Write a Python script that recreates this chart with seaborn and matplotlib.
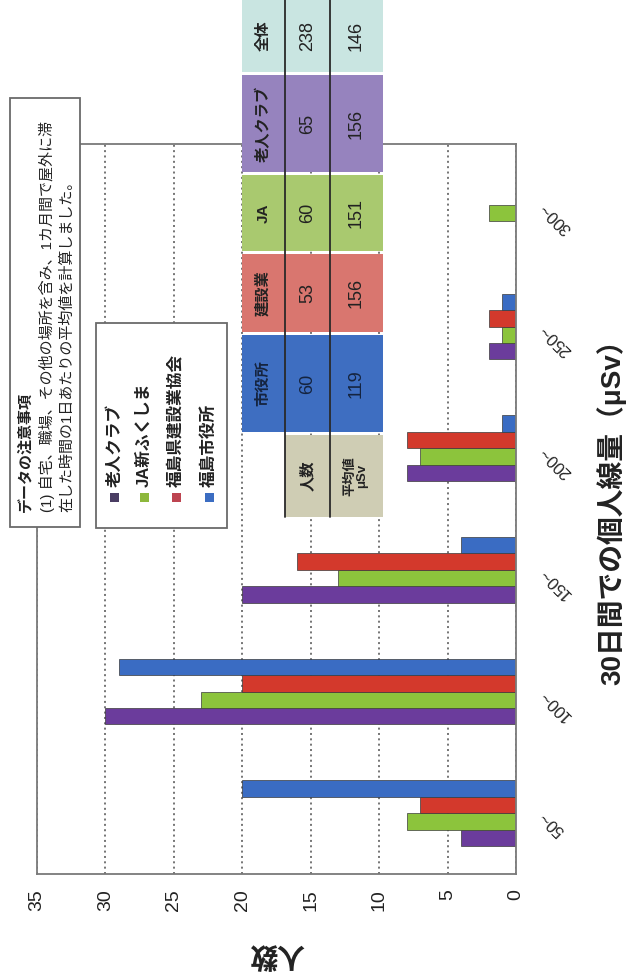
import numpy as np
import pandas as pd
import matplotlib
matplotlib.use("Agg")
import matplotlib.pyplot as plt
from matplotlib.patches import Rectangle
import seaborn as sns

# 30日間の個人線量区分
dose_bins = ["50~", "100~", "150~", "200~", "250~", "300~"]
# 団体
groups = ["老人クラブ", "JA新ふくしま", "福島県建設業協会", "福島市役所"]
# 区分ごとの人数
rojin = [4, 30, 20, 8, 2, 0]
ja = [8, 23, 13, 7, 1, 2]
kensetsu = [7, 20, 16, 8, 2, 0]
shiyakusho = [20, 29, 4, 1, 1, 0]
value_ticks = [0, 5, 10, 15, 20, 25, 30, 35]

# 集計表
table_cols = ["市役所", "建設業", "JA", "老人クラブ", "全体"]
table_counts = [60, 53, 60, 65, 238]
table_means = [119, 156, 151, 156, 146]

note_lines = [
    "データの注意事項",
    "(1) 自宅、職場、その他の場所を含み、1カ月間で屋外に滞",
    "在した時間の1日あたりの平均値を計算しました。",
]

bar_colors = ["#6b3c9c", "#8cc43c", "#d3392c", "#3a6cc3"]
legend_colors = ["#4a3d63", "#8db83c", "#bd4450", "#3b6dc2"]
table_colors = ["#3e6ec1", "#d9766f", "#a9c96f", "#9683be", "#c9e5e1"]
header_color = "#cfcdb4"

sns.set_style("white")
plt.rcParams["font.family"] = ["Liberation Sans", "Noto Sans CJK JP", "DejaVu Sans"]

W, H = 632, 976
fig = plt.figure(figsize=(W / 100, H / 100), dpi=100)
fig.patch.set_facecolor("white")

# main chart area (pixel layout converted to figure fractions)
ax_l, ax_t, ax_r, ax_b = 37, 144, 516, 874
ax = fig.add_axes([ax_l / W, (H - ax_b) / H, (ax_r - ax_l) / W, (ax_b - ax_t) / H])

df = pd.DataFrame({
    "区分": np.tile(dose_bins, len(groups)),
    "団体": np.repeat(groups, len(dose_bins)),
    "人数": rojin + ja + kensetsu + shiyakusho,
})

sns.barplot(
    data=df, x="人数", y="区分", hue="団体",
    order=dose_bins, hue_order=groups, palette=bar_colors,
    orient="h", width=0.54, dodge=True, saturation=1,
    errorbar=None, legend=False, ax=ax,
    edgecolor="#3a3a3a", linewidth=0.5,
)

ax.set_ylim(-0.5, len(dose_bins) - 0.5)
ax.set_xlim(35, 0)
ax.set_xticks(value_ticks)
ax.set_xticklabels([str(v) for v in value_ticks])
ax.set_axisbelow(True)
ax.xaxis.grid(True, linestyle=(0, (1.3, 2.2)), color="#505050", linewidth=1.1)
ax.yaxis.grid(False)

for s in ax.spines.values():
    s.set_visible(True)
    s.set_color("#7a7a7a")
    s.set_linewidth(1.3)

ax.tick_params(axis="x", length=0, pad=11, labelsize=14, labelrotation=90,
               labelcolor="#222222")
ax.yaxis.tick_right()
ax.tick_params(axis="y", length=0, pad=19, labelsize=12, labelcolor="#222222")
for lbl in ax.get_yticklabels():
    lbl.set_rotation(135)
    lbl.set_rotation_mode("anchor")
    lbl.set_ha("right")
    lbl.set_va("center")

ax.set_xlabel("人数", fontsize=20, fontweight="bold", rotation=180,
              va="center", ha="center", color="#222222")
ax.xaxis.set_label_coords((277 - ax_l) / (ax_r - ax_l), -(953 - ax_b) / (ax_b - ax_t))
ax.yaxis.set_label_position("right")
ax.set_ylabel("30日間での個人線量（μSv）", fontsize=20, fontweight="bold",
              rotation=90, va="center", ha="center", color="#222222")
ax.yaxis.set_label_coords((611 - ax_l) / (ax_r - ax_l), (ax_b - 505) / (ax_b - ax_t))

# overlay in pixel coordinates for the note, legend and summary table
ov = fig.add_axes([0, 0, 1, 1], zorder=5)
ov.set_xlim(0, W)
ov.set_ylim(H, 0)
ov.axis("off")
ov.patch.set_alpha(0)

# note box
ov.add_patch(Rectangle((10, 98), 70, 429, facecolor="white", edgecolor="#6a6a6a", lw=1.3))
for x, line in zip([25, 47, 67], note_lines):
    ov.text(x, 512, line, rotation=90, rotation_mode="anchor", ha="left", va="center",
            fontsize=10.8, color="#222222", fontweight="bold" if x == 25 else "normal")

# legend
ov.add_patch(Rectangle((96, 323), 131, 205, facecolor="white", edgecolor="#6a6a6a", lw=1.3))
for x, name, c in zip([114, 144, 176, 209], groups, legend_colors):
    ov.add_patch(Rectangle((x - 4.5, 493), 9, 9, facecolor=c, edgecolor="none"))
    ov.text(x, 487, name, rotation=90, rotation_mode="anchor", ha="left", va="center",
            fontsize=12, fontweight="bold", color="#222222")

# summary table
col_spans = [(335, 432), (254, 332), (175, 251), (75, 172), (-2, 72)]
band_a, band_b, band_c = (242, 285), (285, 330), (330, 383)
for (y0, y1), c, name, n, m in zip(col_spans, table_colors, table_cols,
                                    table_counts, table_means):
    ov.add_patch(Rectangle((band_a[0], y0), band_c[1] - band_a[0], y1 - y0,
                           facecolor=c, edgecolor="none"))
    yc = (y0 + max(y1, 0)) / 2 if y0 >= 0 else 36
    tc = "#15243f" if c == table_colors[0] else "#222222"
    ov.text(sum(band_a) / 2, yc, name, rotation=90, ha="center", va="center",
            fontsize=11, fontweight="bold", color=tc)
    ov.text(sum(band_b) / 2, yc, str(n), rotation=90, ha="center", va="center",
            fontsize=13, color=tc)
    ov.text(sum(band_c) / 2, yc, str(m), rotation=90, ha="center", va="center",
            fontsize=13, color=tc)
ov.add_patch(Rectangle((band_b[0], 435), band_c[1] - band_b[0], 82,
                       facecolor=header_color, edgecolor="none"))
ov.text(sum(band_b) / 2, 476, "人数", rotation=90, ha="center", va="center",
        fontsize=11, fontweight="bold", color="#222222")
ov.text(sum(band_c) / 2, 476, "平均値\nμSv", rotation=90, ha="center", va="center",
        fontsize=9.5, fontweight="bold", color="#222222", linespacing=1.0,
        multialignment="center")
for x in (band_b[0], band_c[0]):
    ov.plot([x, x], [0, 517], color="#2a2a2a", lw=1.3)

fig.savefig("out.png", dpi=100, facecolor="white")
